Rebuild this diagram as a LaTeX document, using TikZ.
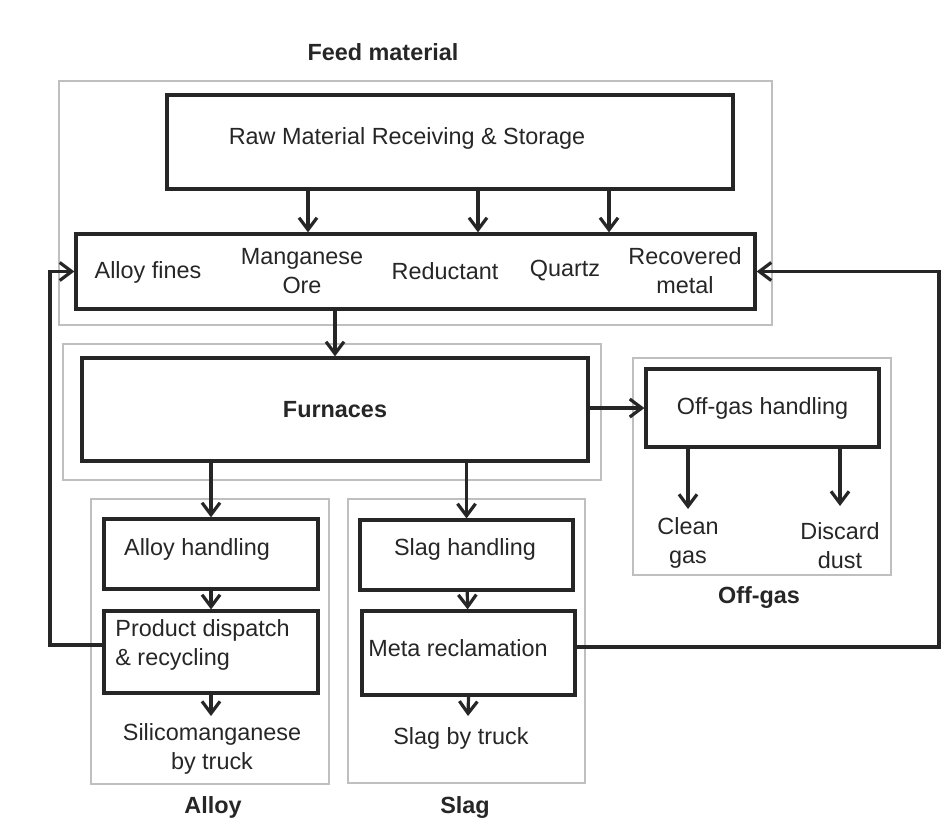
\documentclass[tikz,border=0pt]{standalone}
\usepackage{fontspec}
\setmainfont{Liberation Sans}
\usetikzlibrary{arrows.meta, positioning}
\newcommand{\diagfont}{\fontsize{11.7}{14.5}\selectfont}
\tikzset{
  box/.style={rectangle, draw=black!85, line width=1.6pt, inner sep=0pt},
  group/.style={draw=black!25, line width=0.7pt},
  txt/.style={inner sep=0pt, align=center, text=black!85},
  head/.style={txt, font=\diagfont\bfseries},
  arr/.style={-{Straight Barb[length=6pt, width=9pt, line width=1.6pt]},
              draw=black!85, line width=1.6pt},
}

\begin{document}
\begin{tikzpicture}[x=0.5pt, y=-0.5pt, every node/.style={font=\diagfont}]
  \useasboundingbox (0,0) rectangle (946,830);

  % group frames
  \draw[group] (59,81) rectangle (772,325);
  \draw[group] (63,344) rectangle (601,480);
  \draw[group] (91,499) rectangle (329,784);
  \draw[group] (348,499) rectangle (585,783);
  \draw[group] (633,358) rectangle (891,575);

  \node[head] (feedlbl) at (383,52) {Feed material};
  \node[head] (alloylbl) at (213,807) {Alloy};
  \node[head] (slaglbl) at (465,807) {Slag};
  \node[head] (offlbl) at (759,597) {Off-gas};

  % feed material
  \node[box, minimum width=283pt, minimum height=47pt] (raw) at (450,142) {};
  \node[txt] (rawtxt) at (407,138) {Raw Material Receiving \& Storage};
  \node[box, minimum width=339.5pt, minimum height=37.5pt] (feed) at (415.5,271.5) {};
  \node[txt] (fines) at (148,272) {Alloy fines};
  \node[txt] (ore) at (302,271) {Manganese\\Ore};
  \node[txt] (red) at (445,271) {Reductant};
  \node[txt] (quartz) at (565,271) {Quartz};
  \node[txt] (recov) at (685,271) {Recovered\\metal};

  % furnaces and off-gas
  \node[box, minimum width=253pt, minimum height=51.5pt, font=\diagfont\bfseries,
        text=black!85] (furn) at (335,409.5) {Furnaces};
  \node[box, minimum width=116.5pt, minimum height=39pt, text=black!85]
    (offgas) at (762.5,408) {Off-gas handling};
  \node[txt] (clean) at (688,543) {Clean\\gas};
  \node[txt] (dust) at (840,546) {Discard\\dust};

  % alloy
  \node[box, minimum width=107pt, minimum height=35pt] (alloyh) at (211,554) {};
  \node[txt] (alloytxt) at (197,549) {Alloy handling};
  \node[box, minimum width=107pt, minimum height=41pt] (disp) at (211,652) {};
  \node[txt, align=left, anchor=west] (disptxt) at (115,645) {Product dispatch\\\& recycling};
  \node[txt] (silico) at (212,749) {Silicomanganese\\by truck};

  % slag
  \node[box, minimum width=106.5pt, minimum height=35pt] (slagh) at (466.5,555) {};
  \node[txt] (slagtxt) at (465,549) {Slag handling};
  \node[box, minimum width=106.5pt, minimum height=42pt] (meta) at (468.5,653) {};
  \node[txt] (metatxt) at (458,648) {Meta reclamation};
  \node[txt] (slagtruck) at (461,738) {Slag by truck};

  % connectors
  \coordinate (t1) at (308,0);
  \coordinate (t2) at (478,0);
  \coordinate (t3) at (609,0);
  \coordinate (t4) at (335,0);
  \coordinate (e1) at (211,716);
  \coordinate (e2) at (468,716);
  \coordinate (e3) at (688,509);
  \coordinate (e4) at (840,506);
  \foreach \t in {t1,t2,t3}
    \draw[arr] (\t |- raw.south) -- (\t |- feed.north);
  \draw[arr] (t4 |- feed.south) -- (t4 |- furn.north);
  \draw[arr] (furn.south -| alloyh.north) -- (alloyh.north);
  \draw[arr] (furn.south -| slagh.north) -- (slagh.north);
  \draw[arr] (furn.east |- offgas.west) -- (offgas.west);
  \draw[arr] (e3 |- offgas.south) -- (e3);
  \draw[arr] (e4 |- offgas.south) -- (e4);
  \draw[arr] (alloyh) -- (disp);
  \draw[arr] (disp.south) -- (e1);
  \draw[arr] (slagh) -- (meta);
  \draw[arr] (meta.south) -- (e2);

  % recycling loops
  \coordinate (lb) at (50,645);
  \coordinate (rb) at (939,647);
  \draw[arr] (lb -| disp.west) -- (lb) |- (feed.west);
  \draw[arr] (rb -| meta.east) -- (rb) |- (feed.east);
\end{tikzpicture}
\end{document}
